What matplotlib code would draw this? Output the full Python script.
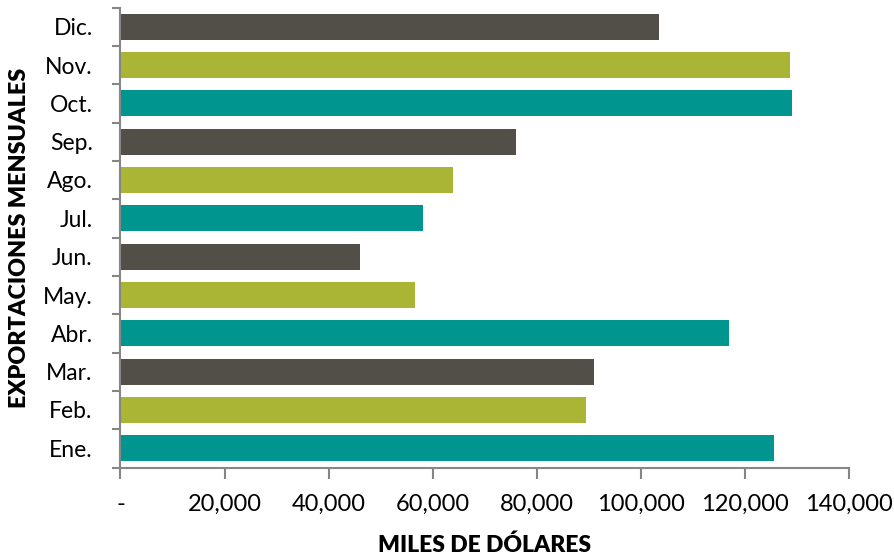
import matplotlib
matplotlib.use("Agg")
import matplotlib.pyplot as plt
from matplotlib.ticker import FuncFormatter

plt.rcParams['font.family'] = ['Lato', 'DejaVu Sans']

months = ["Ene.", "Feb.", "Mar.", "Abr.", "May.", "Jun.",
          "Jul.", "Ago.", "Sep.", "Oct.", "Nov.", "Dic."]
values = [125650, 89550, 90990, 116930, 56590, 46020,
          58130, 63890, 76000, 129040, 128610, 103480]
palette = ["#00968F", "#AAB535", "#524F48"]
colors = [palette[i % 3] for i in range(len(months))]
xticks = [0, 20000, 40000, 60000, 80000, 100000, 120000, 140000]

fig = plt.figure(figsize=(8.95, 5.56), dpi=100)
ax = fig.add_axes([120.5/895, 1 - 467.5/556, (849-120.5)/895, 460/556])

y = list(range(len(months)))
ax.barh(y, values, height=0.67, color=colors)
ax.set_ylim(-0.5, len(months) - 0.5)
ax.set_xlim(0, 140000)

ax.set_yticks([i - 0.5 for i in range(len(months) + 1)], minor=False)
ax.set_yticklabels([])
ax.set_yticks(y, minor=True)
ax.set_yticklabels(months, minor=True, fontsize=16.5)
ax.tick_params(axis='y', which='minor', length=0, pad=20)
ax.tick_params(axis='y', which='major', length=6, width=1.5, color='#868686', direction='out')

ax.set_xticks(xticks)
ax.xaxis.set_major_formatter(FuncFormatter(lambda v, p: '-' if v == 0 else f'{int(v):,}'))
ax.tick_params(axis='x', length=8, width=1.5, color='#868686', direction='out', labelsize=17, pad=11)

for s in ['top', 'right']:
    ax.spines[s].set_visible(False)
for s in ['left', 'bottom']:
    ax.spines[s].set_color('#868686')
    ax.spines[s].set_linewidth(1.5)

ax.set_xlabel("MILES DE DÓLARES", fontsize=16.5, fontweight='heavy', labelpad=14)
ax.set_ylabel("EXPORTACIONES MENSUALES", fontsize=16.8, fontweight='heavy', labelpad=9)

fig.savefig("out.png", dpi=100)
